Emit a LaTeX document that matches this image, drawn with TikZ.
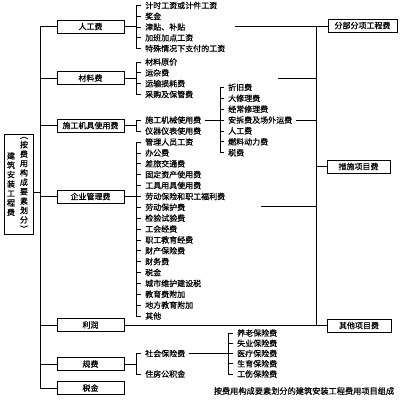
\documentclass[tikz,border=0pt]{standalone}
\usepackage{fontspec}
\newfontfamily\cjk{Noto Sans CJK SC}[FakeBold=0.6]
\usetikzlibrary{positioning, calc}

\begin{document}
\begin{tikzpicture}[
      x=1pt, y=-1pt,
      ln/.style={line width=0.8pt},
      catbox/.style={draw, line width=0.9pt, minimum width=67pt, minimum height=13pt,
                  inner sep=0pt, font=\cjk\fontsize{8}{9}\selectfont},
      totbox/.style={draw, line width=0.9pt, minimum height=13pt, inner sep=0pt,
                  font=\cjk\fontsize{8}{9}\selectfont},
      itembox/.style={anchor=west, inner xsep=4pt, inner ysep=0pt,
                  font=\cjk\fontsize{8}{9}\selectfont},
      vcol/.style={align=center, inner sep=0pt, font=\cjk\fontsize{8}{9.4}\selectfont}
    ]
    \useasboundingbox (0,0) rectangle (401,400);

    % --- Total (vertical text) ---
    \node[draw, line width=0.9pt, minimum width=29pt, minimum height=100pt] (totbox) at (18.5,184) {};
    \node[vcol] (totA) at (24,184.5) {︵\\按\\费\\用\\构\\成\\要\\素\\划\\分\\︶};
    \node[vcol] (totB) at (11,184) {建\\筑\\安\\装\\工\\程\\费};

    % --- Buses ---
    \coordinate (lbus) at (40,0);
    \coordinate (brA)  at (136,0);
    \coordinate (brB)  at (220.5,0);
    \coordinate (brC)  at (228,0);
    \coordinate (rbus) at (316,0);

    % --- Cost elements ---
    \node[catbox] (rgbox) at (90.5,26.5)  {人工费};
    \node[catbox] (clbox) at (90.5,78)    {材料费};
    \node[catbox] (jjbox) at (90.5,125.5) {施工机具使用费};
    \node[catbox] (qgbox) at (90.5,196.5) {企业管理费};
    \node[catbox] (lrbox) at (90.5,325)   {利润};
    \node[catbox] (gfbox) at (90.5,364)   {规费};
    \node[catbox] (sjbox) at (90.5,388)   {税金};

    % --- Items of 人工费 ---
    \node[itembox] (rg1) at (141,5.5)   {计时工资或计件工资};
    \node[itembox] (rg2) at (141,16.25) {奖金};
    \node[itembox] (rg3) at (141,27)    {津贴、补贴};
    \node[itembox] (rg4) at (141,37.75) {加班加点工资};
    \node[itembox] (rg5) at (141,48.5)  {特殊情况下支付的工资};

    % --- Items of 材料费 ---
    \node[itembox] (cl1) at (141,62)   {材料原价};
    \node[itembox] (cl2) at (141,72.8) {运杂费};
    \node[itembox] (cl3) at (141,83.6) {运输损耗费};
    \node[itembox] (cl4) at (141,94.4) {采购及保管费};

    % --- Items of 施工机具使用费 ---
    \node[itembox] (jj1) at (141,120) {施工机械使用费};
    \node[itembox] (jj2) at (141,131) {仪器仪表使用费};

    \node[itembox] (jx1) at (224,87.3)  {折旧费};
    \node[itembox] (jx2) at (224,98.2)  {大修理费};
    \node[itembox] (jx3) at (224,109.1) {经常修理费};
    \node[itembox] (jx4) at (224,120)   {安拆费及场外运费};
    \node[itembox] (jx5) at (224,130.9) {人工费};
    \node[itembox] (jx6) at (224,141.8) {燃料动力费};
    \node[itembox] (jx7) at (224,152.7) {税费};

    % --- Items of 企业管理费 ---
    \node[itembox] (qg1)  at (141,142)    {管理人员工资};
    \node[itembox] (qg2)  at (141,152.9)  {办公费};
    \node[itembox] (qg3)  at (141,163.75) {差旅交通费};
    \node[itembox] (qg4)  at (141,174.6)  {固定资产使用费};
    \node[itembox] (qg5)  at (141,185.5)  {工具用具使用费};
    \node[itembox] (qg6)  at (141,196.4)  {劳动保险和职工福利费};
    \node[itembox] (qg7)  at (141,207.25) {劳动保护费};
    \node[itembox] (qg8)  at (141,218.1)  {检验试验费};
    \node[itembox] (qg9)  at (141,229)    {工会经费};
    \node[itembox] (qg10) at (141,239.9)  {职工教育经费};
    \node[itembox] (qg11) at (141,250.75) {财产保险费};
    \node[itembox] (qg12) at (141,261.6)  {财务费};
    \node[itembox] (qg13) at (141,272.5)  {税金};
    \node[itembox] (qg14) at (141,283.4)  {城市维护建设税};
    \node[itembox] (qg15) at (141,294.25) {教育费附加};
    \node[itembox] (qg16) at (141,305.1)  {地方教育附加};
    \node[itembox] (qg17) at (141,316)    {其他};

    % --- Items of 规费 ---
    \node[itembox] (gf1) at (141,353.5) {社会保险费};
    \node[itembox] (gf2) at (141,374)   {住房公积金};

    \node[itembox] (sb1) at (233,333)    {养老保险费};
    \node[itembox] (sb2) at (233,343.25) {失业保险费};
    \node[itembox] (sb3) at (233,353.5)  {医疗保险费};
    \node[itembox] (sb4) at (233,363.75) {生育保险费};
    \node[itembox] (sb5) at (233,374)    {工伤保险费};

    % --- Project items ---
    \node[totbox, minimum width=69pt] (fbbox) at (362.5,25.5)  {分部分项工程费};
    \node[totbox, minimum width=63pt] (csbox) at (358.5,166.5) {措施项目费};
    \node[totbox, minimum width=64pt] (qtbox) at (359,325.5)   {其他项目费};

    \node[font=\cjk\fontsize{8.2}{9}\selectfont] (cap) at (304,391)
      {按费用构成要素划分的建筑安装工程费用项目组成};

    % --- Trunk on the left ---
    \coordinate (totout) at ($(totbox.east)+(0,8)$);
    \draw[ln] (totout) -- (totout -| lbus);
    \draw[ln] (rgbox.west -| lbus) -- (sjbox.west -| lbus);
    \foreach \b in {rgbox,clbox,jjbox,qgbox,lrbox,gfbox,sjbox}
      \draw[ln] (\b.west -| lbus) -- (\b.west);

    % --- Brackets ---
    \foreach \b in {rgbox,clbox,jjbox,qgbox,gfbox}
      \draw[ln] (\b.east) -- (\b.east -| brA);
    \foreach \n in {rg1,rg2,rg3,rg4,rg5,cl1,cl2,cl3,cl4,jj1,jj2,
                    qg1,qg2,qg3,qg4,qg5,qg6,qg7,qg8,qg9,qg10,qg11,qg12,qg13,qg14,qg15,qg16,qg17,
                    gf1,gf2}
      \draw[ln] (\n.west) -- (\n.west -| brA);
    \draw[ln] (rg1.west -| brA) -- (rg5.west -| brA);
    \draw[ln] (cl1.west -| brA) -- (cl4.west -| brA);
    \draw[ln] (jj1.west -| brA) -- (jj2.west -| brA);
    \draw[ln] (qg1.west -| brA) -- (qg17.west -| brA);
    \draw[ln] (gf1.west -| brA) -- (gf2.west -| brA);

    \draw[ln] (jj1.east) -- (jj1.east -| brB);
    \foreach \n in {jx1,jx2,jx3,jx4,jx5,jx6,jx7}
      \draw[ln] (\n.west) -- (\n.west -| brB);
    \draw[ln] (jx1.west -| brB) -- (jx7.west -| brB);

    \draw[ln] (gf1.east) -- (gf1.east -| brC);
    \foreach \n in {sb1,sb2,sb3,sb4,sb5}
      \draw[ln] (\n.west) -- (\n.west -| brC);
    \draw[ln] (sb1.west -| brC) -- (sb5.west -| brC);

    % --- Trunk on the right ---
    \coordinate (rgout) at (235,26);
    \coordinate (clout) at (278,78);
    \coordinate (qgout) at (261,206);
    \draw[ln] (fbbox.west -| rbus) -- (qtbox.west -| rbus);
    \draw[ln] (rgout) -- (rgout -| fbbox.west);
    \draw[ln] (clout) -- (clout -| rbus);
    \draw[ln] (jx4.east) -- (jx4.east -| rbus);
    \draw[ln] (qgout) -- (qgout -| rbus);
    \draw[ln] (csbox.west -| rbus) -- (csbox.west);
    \draw[ln] (lrbox.east) -- (lrbox.east -| qtbox.west);

  \end{tikzpicture}
\end{document}
